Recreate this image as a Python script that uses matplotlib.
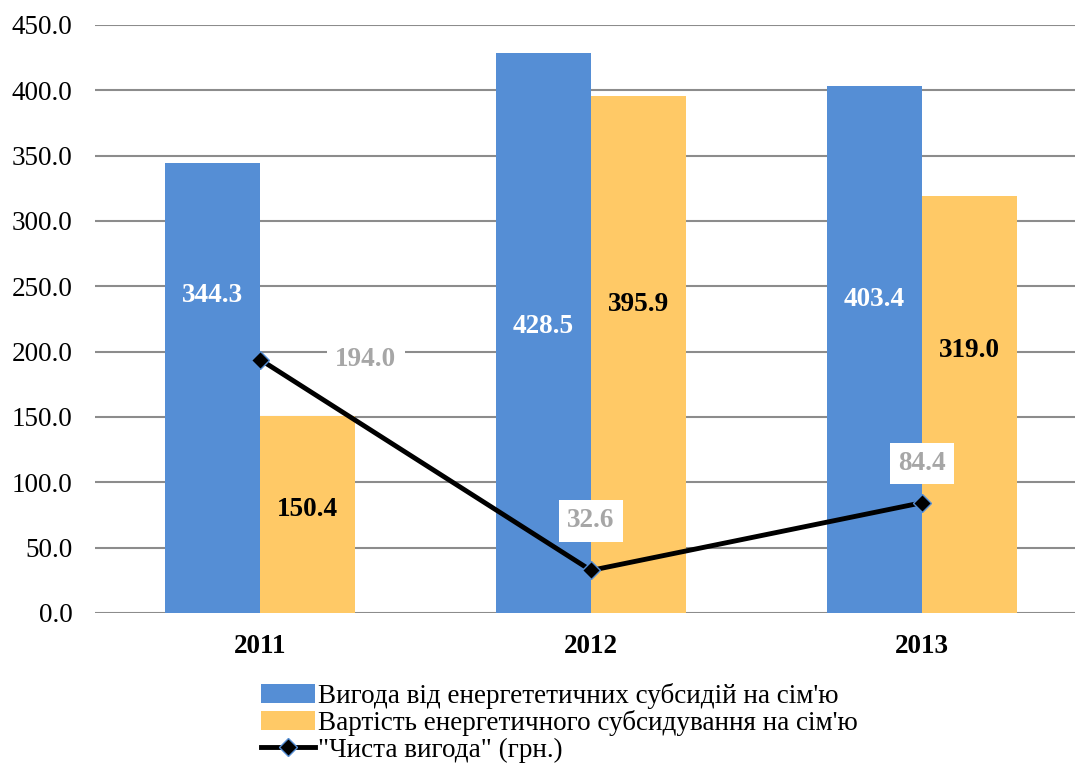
import numpy as np
import matplotlib.pyplot as plt

# data
years = ['2011', '2012', '2013']
benefit = [344.3, 428.5, 403.4]
cost = [150.4, 395.9, 319.0]
net = [194.0, 32.6, 84.4]
benefit_label_y = [243, 219, 240]
cost_label_y = [79, 236, 201]

plt.rcParams['font.family'] = ['Liberation Serif', 'DejaVu Serif']
fs = 19.5

fig = plt.figure(figsize=(10.75, 7.65), dpi=100)
ax = fig.add_axes([94.5 / 1075, 1 - 613 / 765, (1075 - 94.5) / 1075, 588 / 765])

x = np.arange(len(years))
w = 0.287
b1 = ax.bar(x - w / 2, benefit, w, color='#558ed5', zorder=2,
            label='Вигода від енергететичних субсидій на сім\'ю')
b2 = ax.bar(x + w / 2, cost, w, color='#ffc966', zorder=2,
            label='Вартість енергетичного субсидування на сім\'ю')
ln, = ax.plot(x, net, color='black', lw=3.5, marker='D', ms=9, mfc='black',
              mec='#558ed5', mew=1, zorder=4, label='"Чиста вигода" (грн.)')

for i in range(len(years)):
    ax.text(x[i] - w / 2, benefit_label_y[i], f'{benefit[i]:.1f}', ha='center',
            va='center', color='white', fontsize=fs, fontweight='bold', zorder=5)
    ax.text(x[i] + w / 2, cost_label_y[i], f'{cost[i]:.1f}', ha='center',
            va='center', color='black', fontsize=fs, fontweight='bold', zorder=5)

# net-benefit labels, offset from the markers
net_offsets = [(0.32, 0), (0, 38), (0, 30)]
for i in range(len(years)):
    dx, dy = net_offsets[i]
    ax.text(x[i] + dx, net[i] + dy, f'{net[i]:.1f}', ha='center', va='center',
            color='#a6a6a6', fontsize=fs, fontweight='bold', zorder=5,
            bbox=dict(facecolor='white', edgecolor='none', pad=6))

ax.set_xlim(-0.5, (1075 - 260) / 331)
ax.set_ylim(0, 450)
ax.set_yticks(np.arange(0, 451, 50))
ax.set_yticklabels([f'{v:.1f}' for v in np.arange(0, 451, 50)], fontsize=fs)
ax.set_xticks(x)
ax.set_xticklabels(years, fontsize=fs, fontweight='bold')
ax.tick_params(length=0)
ax.tick_params(axis='x', pad=15)
ax.tick_params(axis='y', pad=16)
ax.grid(axis='y', color='#8c8c8c', lw=1.5, zorder=0)
for s in ax.spines.values():
    s.set_visible(False)

ax.legend([b1, b2, ln], [b1.get_label(), b2.get_label(), ln.get_label()],
          loc='upper left', bbox_to_anchor=(261 / 1075, 82 / 765),
          bbox_transform=fig.transFigure, frameon=False, fontsize=fs,
          handlelength=2.0, handletextpad=0.1, labelspacing=0.05,
          borderaxespad=0, borderpad=0)

fig.savefig('out.png', dpi=100)
